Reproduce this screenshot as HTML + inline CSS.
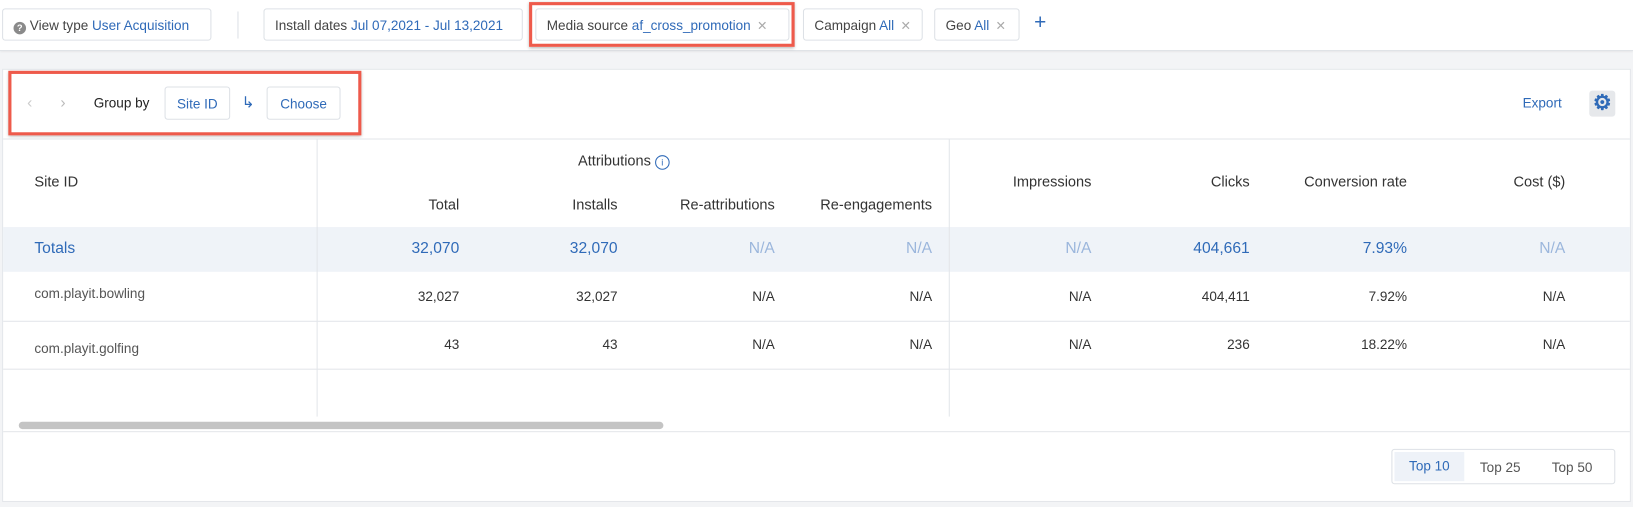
<!DOCTYPE html>
<html><head><meta charset="utf-8"><style>
html,body{margin:0;padding:0;width:1633px;height:507px;overflow:hidden;background:#f3f4f6;font-family:"Liberation Sans",sans-serif;}
#w{position:absolute;left:0;top:0;width:1568px;height:487px;transform:scale(1.04145);transform-origin:0 0;}
.a{position:absolute;white-space:nowrap;}
.chip{position:absolute;top:8px;height:31px;border:1px solid #dde1e6;border-radius:3px;background:#fff;font-size:13px;color:#444;line-height:31px;box-sizing:border-box;padding-left:10px;}
.b{color:#2f6ab8;}
.x{color:#aaa;font-size:12px;margin-left:6px;}
.h{font-size:14px;color:#333;}
.r{text-align:right;}
.t{font-size:15px;color:#2f6ab8;}
.na{color:#9bb6dc;}
.d{font-size:13px;color:#333;}
.hl{position:absolute;height:1px;background:#e3e6ea;}
.vl{position:absolute;width:1px;background:#e3e6ea;top:133px;height:267px;}
</style></head><body><div id="w">
<div class="a" style="left:0;top:0;width:1568px;height:48px;background:#fff;border-bottom:1px solid #e0e3e7;box-shadow:0 1px 2px rgba(0,0,0,.08)"></div>
<div class="chip" style="left:2px;width:201px;"><span style="display:inline-block;width:12px;height:12px;border-radius:50%;background:#8a8a8a;color:#fff;font-size:9px;line-height:12px;text-align:center;font-weight:bold;vertical-align:-1px">?</span> View type <span class="b">User Acquisition</span></div>
<div class="a" style="left:228px;top:11px;width:1px;height:26px;background:#dde1e6"></div>
<div class="chip" style="left:253px;width:249px;">Install dates <span class="b">Jul 07,2021 - Jul 13,2021</span></div>
<div class="a" style="left:508px;top:2px;width:255px;height:43px;border:3px solid #ee5a4b;box-sizing:border-box;box-shadow:0 1px 3px rgba(0,0,0,.3)"></div>
<div class="chip" style="left:514px;width:244px;">Media source <span class="b">af_cross_promotion</span><span class="x">✕</span></div>
<div class="chip" style="left:771px;width:115px;">Campaign <span class="b">All</span><span class="x">✕</span></div>
<div class="chip" style="left:897px;width:82px;">Geo <span class="b">All</span><span class="x">✕</span></div>
<div class="a b" style="left:993px;top:11px;font-size:20px;">+</div>

<div class="a" style="left:2px;top:66px;width:1564px;height:416px;background:#fff;border:1px solid #e3e6ea;box-sizing:border-box"></div>
<div class="a" style="left:8px;top:68px;width:339px;height:62px;border:3px solid #ee5a4b;box-sizing:border-box;box-shadow:0 1px 3px rgba(0,0,0,.3)"></div>
<div class="a" style="left:26px;top:90px;color:#ccc;font-size:15px">‹</div>
<div class="a" style="left:58px;top:90px;color:#bbb;font-size:15px">›</div>
<div class="a" style="left:90px;top:91px;font-size:13px;color:#222">Group by</div>
<div class="a b" style="left:158px;top:83px;width:63px;height:32px;border:1px solid #dde1e6;border-radius:3px;box-sizing:border-box;text-align:center;line-height:31px;font-size:13px">Site ID</div>
<div class="a b" style="left:232px;top:89px;font-size:15px">↳</div>
<div class="a b" style="left:256px;top:83px;width:71px;height:32px;border:1px solid #dde1e6;border-radius:3px;box-sizing:border-box;text-align:center;line-height:31px;font-size:13px">Choose</div>
<div class="a b" style="left:1462px;top:91px;font-size:13px">Export</div>
<div class="a" style="left:1526px;top:87px;width:25px;height:25px;background:#e6e8eb;border-radius:3px;text-align:center;line-height:25px;font-size:20px;font-weight:bold;color:#2f6ab8">⚙</div>

<div class="hl" style="left:3px;top:133px;width:1562px"></div>
<div class="a" style="left:3px;top:218px;width:1562px;height:43px;background:#eff3f8"></div>
<div class="vl" style="left:304px"></div>
<div class="vl" style="left:911px"></div>
<div class="hl" style="left:3px;top:308px;width:1562px"></div>
<div class="hl" style="left:3px;top:354px;width:1562px"></div>
<div class="hl" style="left:3px;top:414px;width:1562px"></div>
<div class="a" style="left:18px;top:405px;width:619px;height:7px;background:#c4c4c4;border-radius:4px"></div>

<div class="a h" style="left:33px;top:166px">Site ID</div>
<div class="a h" style="left:555px;top:146px">Attributions <span style="display:inline-block;width:12px;height:12px;border:1.5px solid #2f6ab8;border-radius:50%;color:#2f6ab8;font-size:9px;line-height:12px;text-align:center;vertical-align:0px">i</span></div>
<div class="a h r" style="right:1127px;top:188px">Total</div>
<div class="a h r" style="right:975px;top:188px">Installs</div>
<div class="a h r" style="right:824px;top:188px">Re-attributions</div>
<div class="a h r" style="right:673px;top:188px">Re-engagements</div>
<div class="a h r" style="right:520px;top:166px">Impressions</div>
<div class="a h r" style="right:368px;top:166px">Clicks</div>
<div class="a h r" style="right:217px;top:166px">Conversion rate</div>
<div class="a h r" style="right:65px;top:166px">Cost ($)</div>

<div class="a t" style="left:33px;top:230px">Totals</div>
<div class="a t" style="right:1127px;top:230px">32,070</div>
<div class="a t" style="right:975px;top:230px">32,070</div>
<div class="a t na" style="right:824px;top:230px">N/A</div>
<div class="a t na" style="right:673px;top:230px">N/A</div>
<div class="a t na" style="right:520px;top:230px">N/A</div>
<div class="a t" style="right:368px;top:230px">404,661</div>
<div class="a t" style="right:217px;top:230px">7.93%</div>
<div class="a t na" style="right:65px;top:230px">N/A</div>

<div class="a d" style="left:33px;top:274px;color:#555">com.playit.bowling</div>
<div class="a d" style="right:1127px;top:277px">32,027</div>
<div class="a d" style="right:975px;top:277px">32,027</div>
<div class="a d" style="right:824px;top:277px">N/A</div>
<div class="a d" style="right:673px;top:277px">N/A</div>
<div class="a d" style="right:520px;top:277px">N/A</div>
<div class="a d" style="right:368px;top:277px">404,411</div>
<div class="a d" style="right:217px;top:277px">7.92%</div>
<div class="a d" style="right:65px;top:277px">N/A</div>

<div class="a d" style="left:33px;top:327px;color:#555">com.playit.golfing</div>
<div class="a d" style="right:1127px;top:323px">43</div>
<div class="a d" style="right:975px;top:323px">43</div>
<div class="a d" style="right:824px;top:323px">N/A</div>
<div class="a d" style="right:673px;top:323px">N/A</div>
<div class="a d" style="right:520px;top:323px">N/A</div>
<div class="a d" style="right:368px;top:323px">236</div>
<div class="a d" style="right:217px;top:323px">18.22%</div>
<div class="a d" style="right:65px;top:323px">N/A</div>

<div class="a" style="left:1336px;top:431px;width:215px;height:34px;border:1px solid #dde1e6;border-radius:3px;box-sizing:border-box"></div>
<div class="a b" style="left:1339px;top:434px;width:67px;height:28px;background:#eef2f8;line-height:28px;text-align:center;font-size:13px">Top 10</div>
<div class="a" style="left:1421px;top:441px;font-size:13px;color:#555">Top 25</div>
<div class="a" style="left:1490px;top:441px;font-size:13px;color:#555">Top 50</div>
</div></body></html>
